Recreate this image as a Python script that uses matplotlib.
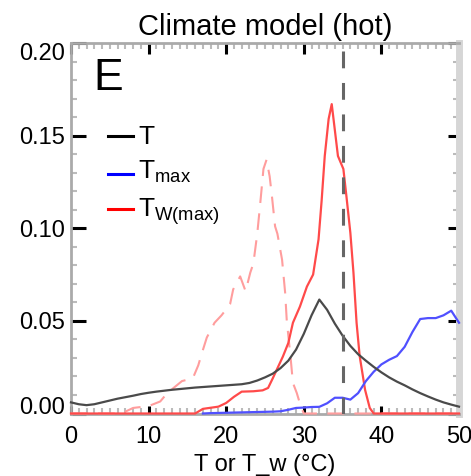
import matplotlib
matplotlib.use("Agg")
import matplotlib.pyplot as plt

plt.rcParams['font.family'] = ['Liberation Sans', 'DejaVu Sans']
plt.rcParams['mathtext.fontset'] = 'custom'
plt.rcParams['mathtext.rm'] = 'Liberation Sans'
plt.rcParams['mathtext.it'] = 'Liberation Sans'

# --- data (x in degC, y = frequency) ---
t_x = list(range(0, 51))
t_y = [0.0060, 0.0050, 0.0045, 0.0050, 0.0060, 0.0070, 0.0080, 0.0088, 0.0096, 0.0105,
       0.0112, 0.0118, 0.0123, 0.0128, 0.0132, 0.0136, 0.0140, 0.0143, 0.0146, 0.0149,
       0.0152, 0.0155, 0.0158, 0.0165, 0.0178, 0.0195, 0.0215, 0.0245, 0.0285, 0.0345,
       0.0430, 0.0530, 0.0615, 0.0560, 0.0485, 0.0420, 0.0365, 0.0320, 0.0285, 0.0252,
       0.0222, 0.0195, 0.0172, 0.0152, 0.0130, 0.0110, 0.0092, 0.0075, 0.0060, 0.0048,
       0.0037]

tmax_x = list(range(17, 51))
tmax_y = [0.0000, 0.0002, 0.0003, 0.0004, 0.0005, 0.0006, 0.0007, 0.0008, 0.0009, 0.0010,
          0.0012, 0.0020, 0.0030, 0.0032, 0.0035, 0.0036, 0.0055, 0.0085, 0.0085, 0.0075,
          0.0110, 0.0175, 0.0225, 0.0265, 0.0290, 0.0310, 0.0360, 0.0440, 0.0510, 0.0515,
          0.0515, 0.0530, 0.0555, 0.0490]

tw_x = [0, 16, 17, 19, 20, 21, 22, 23.5, 24.7, 25.4, 26, 27.3, 28, 28.6, 29.5, 30.4, 31.2,
        31.9, 32.3, 32.7, 33.2, 33.6, 34.0, 34.4, 35.1, 35.5, 36.0, 36.4, 36.8, 37.2, 37.9,
        38.5, 39, 50]
tw_y = [0, 0, 0.0025, 0.0037, 0.0057, 0.009, 0.0118, 0.012, 0.0125, 0.0138, 0.019, 0.0307,
        0.038, 0.049, 0.0577, 0.0685, 0.075, 0.094, 0.115, 0.139, 0.159, 0.167, 0.153, 0.139,
        0.132, 0.117, 0.0975, 0.076, 0.049, 0.031, 0.0127, 0.003, 0, 0]

# present-day Tw(max), dashed
tw0_x = [0, 6.5, 8, 10, 11.5, 12.4, 14.3, 15.7, 16.4, 16.9, 17.5, 18.5, 19.4, 20.5, 20.9,
         21.8, 22.5, 23.1, 23.5, 24.0, 24.4, 24.8, 25.2, 25.6, 25.9, 26.3, 26.6, 27.2, 27.6,
         27.8, 28.3, 28.6, 29.1, 29.6, 30, 50]
tw0_y = [0, 0, 0.003, 0.004, 0.0065, 0.011, 0.0175, 0.019, 0.026, 0.033, 0.041, 0.049,
         0.053, 0.059, 0.067, 0.074, 0.066, 0.076, 0.081, 0.097, 0.114, 0.132, 0.137, 0.128,
         0.117, 0.101, 0.097, 0.083, 0.065, 0.0505, 0.03, 0.0165, 0.011, 0.004, 0, 0]

threshold = 35
x_ticks = [0, 10, 20, 30, 40, 50]
y_ticks = [0.00, 0.05, 0.10, 0.15, 0.20]
y_ticklabels = ['0.00', '0.05', '0.10', '0.15', '0.20']

fig = plt.figure(figsize=(4.71, 4.76), dpi=100)
ax = fig.add_axes([71 / 471, (476 - 413.5) / 476, 388 / 471, 370.5 / 476])

ax.plot(tw0_x, tw0_y, color='#ff9d9d', lw=1.5, dashes=(8, 5), zorder=3, clip_on=False)
ax.plot(tw_x, tw_y, color='#ff4a4a', lw=1.6, zorder=3, clip_on=False)
ax.plot(tmax_x, tmax_y, color='#5050ff', lw=1.6, zorder=3, clip_on=False)
ax.plot(t_x, t_y, color='#4a4a4a', lw=1.6, zorder=3, clip_on=False)
ax.axvline(threshold, color='#666666', lw=2.2, dashes=(5.5, 4.8), zorder=4)

ax.set_xlim(0, 50)
ax.set_ylim(0, 0.20)
ax.set_xticks(x_ticks)
ax.set_xticks(range(0, 51), minor=True)
ax.set_yticks(y_ticks)
ax.set_yticklabels(y_ticklabels)
ax.set_yticks([i / 100 for i in range(21)], minor=True)

ax.tick_params(which='both', direction='in', top=True, right=True, labelsize=17)
ax.tick_params(axis='x', which='major', length=6, width=2.2, pad=9)
ax.tick_params(axis='y', which='major', length=11, width=2.2, pad=4)
ax.tick_params(which='minor', length=4, width=1.5, color='#bbbbbb')
for tk in ax.xaxis.get_major_ticks() + ax.yaxis.get_major_ticks():
    tk.tick1line.set_color('black')
    tk.tick2line.set_color('#aaaaaa')
    tk.tick2line.set_markersize(8)

labels = ax.get_yticklabels()
labels[0].set_va('baseline')
labels[-1].set_va('top')

for side in ['left', 'top', 'bottom']:
    ax.spines[side].set_color('#aaaaaa')
    ax.spines[side].set_linewidth(2.0)
ax.spines['right'].set_color('#d6d6d6')
ax.spines['right'].set_linewidth(5)

ax.set_title('Climate model (hot)', fontsize=21, pad=6)
ax.set_xlabel('T or T_w (\u00b0C)', fontsize=17, labelpad=4)

ax.text(0.058, 0.873, 'E', fontsize=32, transform=ax.transAxes, va='baseline')

# legend drawn by hand to match the reference layout
key_rows = [0.749, 0.646, 0.552]
key_text_y = [0.727, 0.633, 0.530]
key_colors = ['black', 'blue', 'red']
key_labels = ['T', r'T$_{\rm max}$', r'T$_{\rm W(max)}$']
for ky, ty, c, lab in zip(key_rows, key_text_y, key_colors, key_labels):
    ax.plot([0.095, 0.160], [ky, ky], color=c, lw=2.2, transform=ax.transAxes)
    ax.text(0.173, ty, lab, fontsize=19, transform=ax.transAxes, va='baseline')

fig.savefig('out.png', dpi=100)
